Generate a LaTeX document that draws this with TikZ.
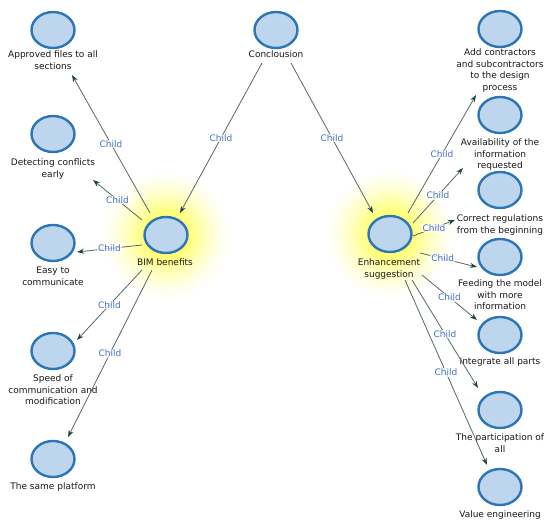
\documentclass[tikz,border=0pt]{standalone}
\usepackage{fontspec}
\setmainfont{DejaVu Sans}
\usetikzlibrary{arrows.meta,calc,shapes.geometric}
\definecolor{circfill}{RGB}{189,214,238}
\definecolor{circdraw}{RGB}{46,117,182}
\definecolor{edgecol}{RGB}{85,105,100}
\definecolor{arrowcol}{RGB}{30,70,60}
\definecolor{childcol}{RGB}{68,114,196}
\definecolor{textcol}{RGB}{25,25,25}
\pgfdeclareradialshading{glow}{\pgfpoint{0bp}{0bp}}{color(0bp)=(yellow!60!white); color(9bp)=(yellow!52!white); color(14bp)=(yellow!30!white); color(20bp)=(yellow!10!white); color(25bp)=(white); color(50bp)=(white)}
\begin{document}
\begin{tikzpicture}[x=1pt,y=-1pt,
  circ/.style={ellipse, draw=circdraw, fill=circfill, line width=2.4pt, minimum width=43pt, minimum height=36pt, inner sep=0pt},
  lbl/.style={anchor=north, align=center, inner sep=1pt, text=textcol, font=\fontsize{9}{11.6}\selectfont},
  conn/.style={draw=edgecol, line width=0.8pt, -{Stealth[length=7pt,width=5pt,color=arrowcol]}},
  chl/.style={text=childcol, font=\fontsize{9}{11}\selectfont, fill=white, fill opacity=0.75, text opacity=1, inner sep=1pt}]
\fill[white] (0,0) rectangle (550,525);
\useasboundingbox (0,0) rectangle (550,525);
% glow
\coordinate (bimc) at (166,235);
\coordinate (enhc) at (390,234);
\shade[shading=glow] (bimc) circle (64);
\shade[shading=glow] (enhc) circle (64);
% circles
\node[circ] (conc) at (276,30) {};
\node[circ] (bim) at (bimc) {};
\node[circ] (enh) at (enhc) {};
\node[circ] (ap) at (53,30) {};
\node[circ] (det) at (53,134) {};
\node[circ] (easy) at (53,243) {};
\node[circ] (speed) at (53,351) {};
\node[circ] (same) at (53,459) {};
\node[circ] (add) at (500,29) {};
\node[circ] (avail) at (500,115) {};
\node[circ] (corr) at (500,190) {};
\node[circ] (feed) at (500,257) {};
\node[circ] (integ) at (500,335) {};
\node[circ] (part) at (500,410) {};
\node[circ] (value) at (500,487) {};
% labels
\node[lbl] (concL) at (276,49.7) {Conclousion};
\node[lbl] (bimL) at (165,257.7) {BIM benefits};
\node[lbl] (enhL) at (389,257.7) {Enhancement\\suggestion};
\node[lbl] (apL) at (53,49.7) {Approved files to all\\sections};
\node[lbl] (detL) at (53,157.7) {Detecting conflicts\\early};
\node[lbl] (easyL) at (53,265.7) {Easy to\\communicate};
\node[lbl] (speedL) at (53,373.7) {Speed of\\communication and\\modification};
\node[lbl] (sameL) at (53,481.7) {The same platform};
\node[lbl] (addL) at (500,47.7) {Add contractors\\and subcontractors\\to the design\\process};
\node[lbl] (availL) at (500,137.7) {Availability of the\\information\\requested};
\node[lbl] (corrL) at (500,213.7) {Correct regulations\\from the beginning};
\node[lbl] (feedL) at (500,278.7) {Feeding the model\\with more\\information};
\node[lbl] (integL) at (500,356.7) {Integrate all parts};
\node[lbl] (partL) at (500,432.7) {The participation of\\all};
\node[lbl] (valueL) at (500,509.7) {Value engineering};
% connectors
\draw[conn] ($(conc)+(-14,33)$) -- node[chl]{Child} ($(bim)+(14,-22)$);
\draw[conn] ($(conc)+(15,33)$) -- node[chl]{Child} ($(enh)+(-17,-21)$);
\draw[conn] ($(bim)+(-16,-22)$) -- node[chl]{Child} ($(ap)+(19,45)$);
\draw[conn] ($(bim)+(-24,-15)$) -- node[chl]{Child} ($(det)+(40,46)$);
\draw[conn] ($(bim)+(-24,10)$) -- node[chl]{Child} ($(easy)+(24,9)$);
\draw[conn] ($(bim)+(-24,35)$) -- node[chl]{Child} ($(speed)+(24,-11)$);
\draw[conn] ($(bim)+(-14,35)$) -- node[chl]{Child} ($(same)+(15,-22)$);
\draw[conn] ($(enh)+(18,-21)$) -- node[chl]{Child} ($(add)+(-24,66)$);
\draw[conn] ($(enh)+(23,-11)$) -- node[chl]{Child} ($(avail)+(-37,53)$);
\draw[conn] ($(enh)+(23,2)$) -- node[chl]{Child} ($(corr)+(-45,30)$);
\draw[conn] ($(enh)+(30,19)$) -- node[chl,pos=0.4]{Child} ($(feed)+(-23,10)$);
\draw[conn] ($(enh)+(32,41)$) -- node[chl]{Child} ($(integ)+(-23,-15)$);
\draw[conn] ($(enh)+(22,46)$) -- node[chl]{Child} ($(part)+(-22,-22)$);
\draw[conn] ($(enh)+(15,46)$) -- node[chl]{Child} ($(value)+(-13,-22)$);
\end{tikzpicture}
\end{document}
